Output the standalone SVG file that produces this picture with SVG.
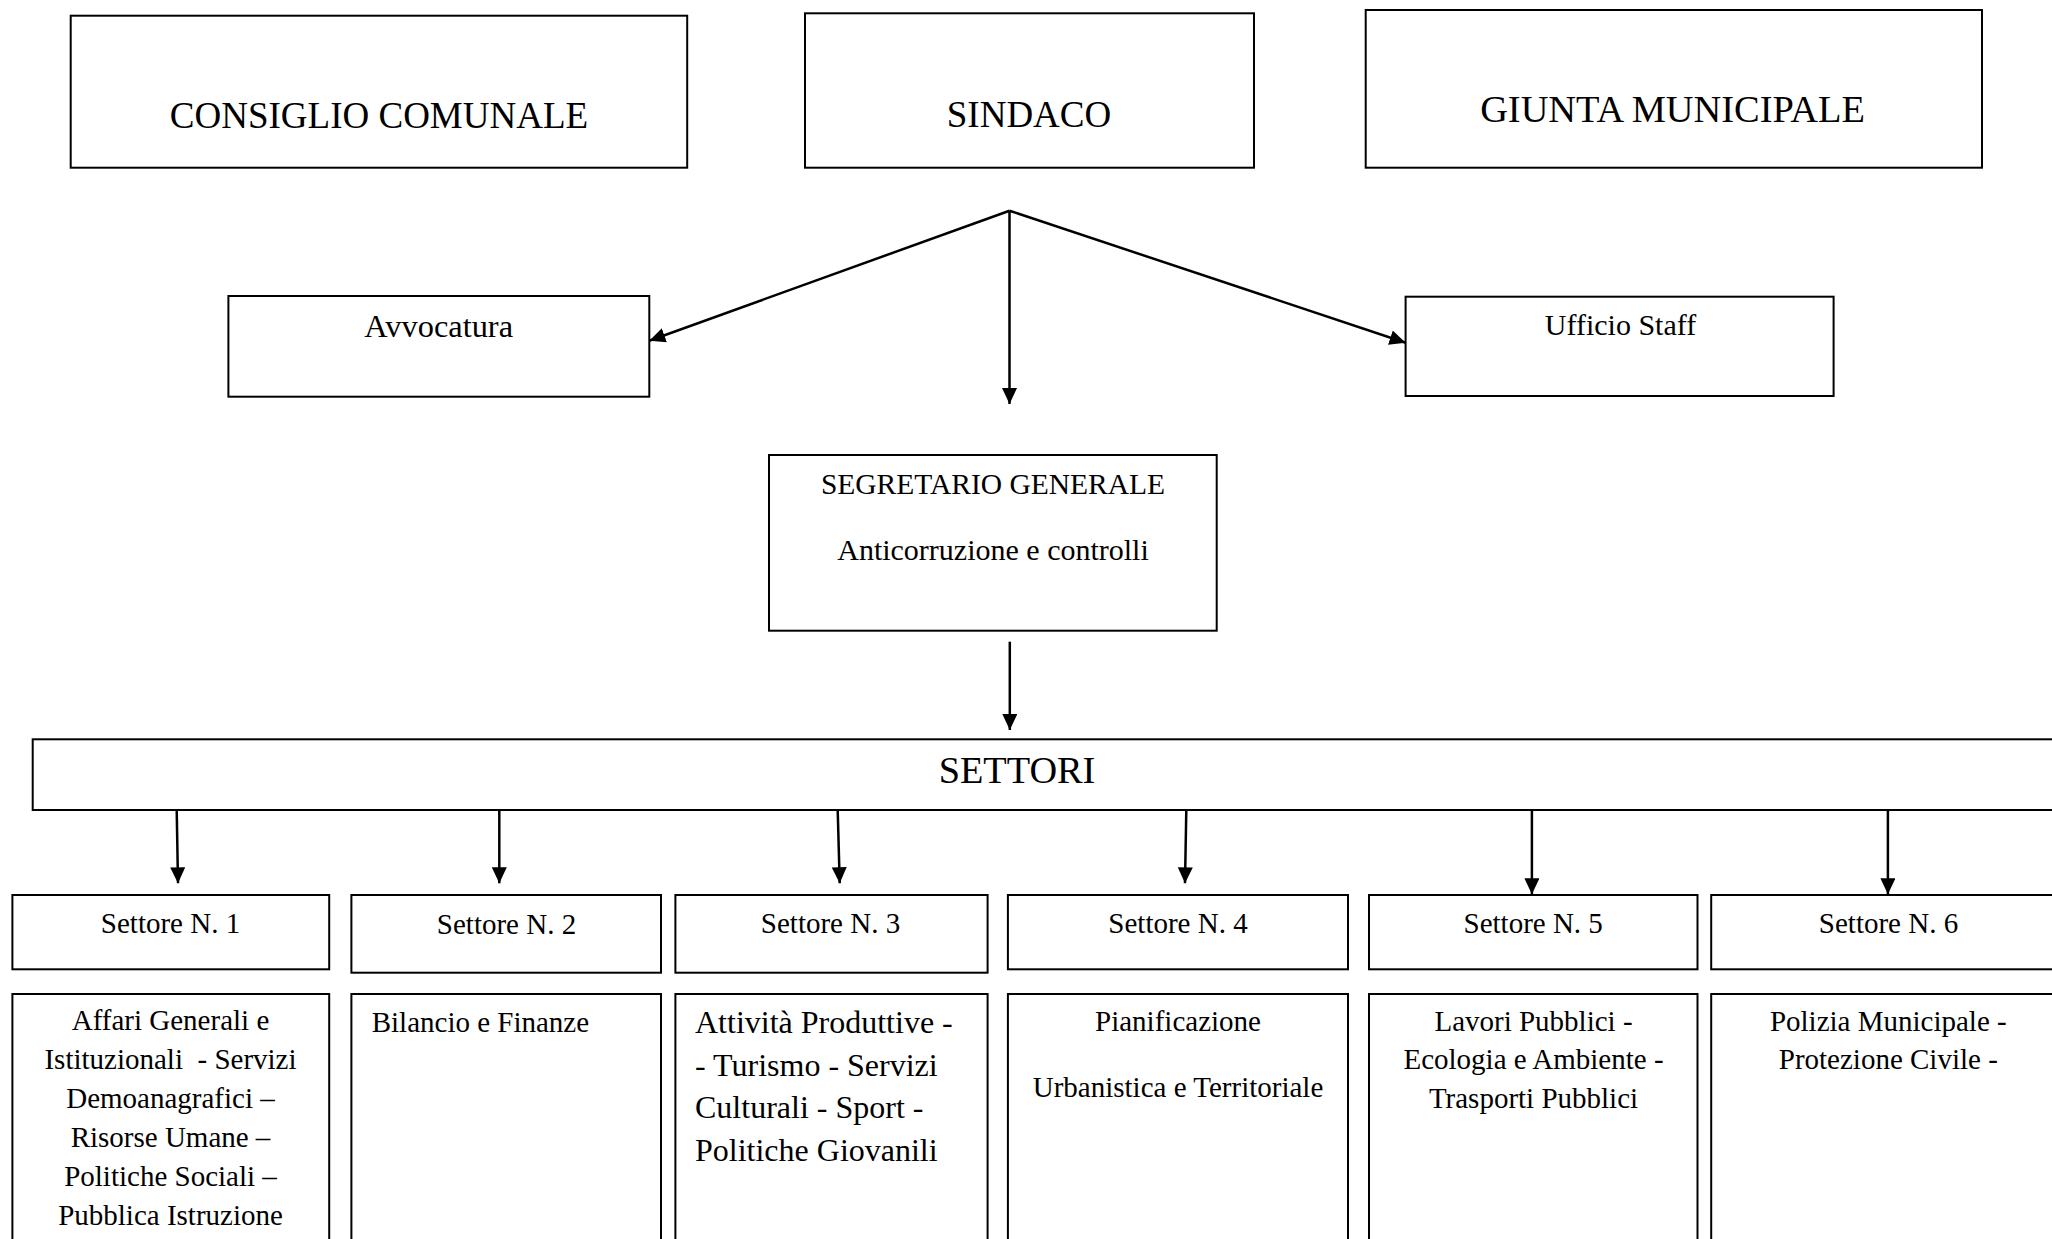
<svg xmlns="http://www.w3.org/2000/svg" width="2052" height="1239" viewBox="0 0 2052 1239">
<style>
  .box { fill: #ffffff; stroke: #000000; stroke-width: 2; }
  .t { font-family: "Liberation Serif", "Times New Roman", serif; fill: #000000; }
  .c { text-anchor: middle; }
  .big { font-size: 37px; }
  .med { font-size: 29px; }
  .conn { fill: none; stroke: #000000; stroke-width: 2.5; marker-end: url(#arrow); }
</style>
<defs>
  <marker id="arrow" markerUnits="userSpaceOnUse" markerWidth="16" markerHeight="16" refX="16" refY="7.5" orient="auto">
    <path d="M0,0 L16,7.5 L0,15 z" fill="#000000"/>
  </marker>
</defs>
<rect width="2052" height="1239" fill="#ffffff"/>

<g id="consiglio">
  <rect class="box" x="70.7" y="15.7" width="616.5" height="152"/>
  <text class="t c big" x="379" y="127.7">CONSIGLIO COMUNALE</text>
</g>
<g id="sindaco">
  <rect class="box" x="805" y="13.3" width="449" height="154.4"/>
  <text class="t c big" x="1029" y="126.7">SINDACO</text>
</g>
<g id="giunta">
  <rect class="box" x="1365.7" y="10" width="616.3" height="157.7"/>
  <text class="t c" style="font-size:38.4px" x="1672.5" y="121.7">GIUNTA MUNICIPALE</text>
</g>
<g id="avvocatura">
  <rect class="box" x="228.4" y="296" width="420.9" height="100.7"/>
  <text class="t c" style="font-size:32.4px" x="438.7" y="336.7">Avvocatura</text>
</g>
<g id="ufficio-staff">
  <rect class="box" x="1405.6" y="296.7" width="428" height="99.3"/>
  <text class="t c" style="font-size:30px" x="1620.5" y="335">Ufficio Staff</text>
</g>
<g id="segretario">
  <rect class="box" x="769" y="455" width="447.7" height="175.7"/>
  <text class="t c" style="font-size:29.5px" x="993" y="493.5">SEGRETARIO GENERALE</text>
  <text class="t c" style="font-size:30px" x="993" y="560">Anticorruzione e controlli</text>
</g>
<g id="settori">
  <rect class="box" x="32.7" y="739.3" width="2030" height="70.7"/>
  <text class="t c" style="font-size:38.3px" x="1017" y="783.3">SETTORI</text>
</g>

<g id="settore1">
  <rect class="box" x="12.4" y="895" width="316.8" height="74.3"/>
  <text class="t c med" x="170.5" y="932.7">Settore N. 1</text>
</g>
<g id="settore2">
  <rect class="box" x="351.4" y="895" width="309.6" height="77.7"/>
  <text class="t c med" x="506.5" y="934">Settore N. 2</text>
</g>
<g id="settore3">
  <rect class="box" x="675.4" y="895" width="312.2" height="77.7"/>
  <text class="t c med" x="830.5" y="932.7">Settore N. 3</text>
</g>
<g id="settore4">
  <rect class="box" x="1007.9" y="895" width="340.1" height="74.3"/>
  <text class="t c med" x="1178" y="932.7">Settore N. 4</text>
</g>
<g id="settore5">
  <rect class="box" x="1369" y="895" width="328.5" height="74.3"/>
  <text class="t c med" x="1533.2" y="932.7">Settore N. 5</text>
</g>
<g id="settore6">
  <rect class="box" x="1711.2" y="895" width="354" height="74.3"/>
  <text class="t c med" x="1888.5" y="932.7">Settore N. 6</text>
</g>

<g id="desc1">
  <rect class="box" x="12.4" y="994" width="316.8" height="260"/>
  <text class="t c med" x="170.5" y="1030">Affari Generali e</text>
  <text class="t c med" x="170.5" y="1069.3" style="white-space:pre">Istituzionali  - Servizi</text>
  <text class="t c med" x="170.5" y="1108.3">Demoanagrafici –</text>
  <text class="t c med" x="170.5" y="1147.3">Risorse Umane –</text>
  <text class="t c med" x="170.5" y="1186">Politiche Sociali –</text>
  <text class="t c med" x="170.5" y="1225">Pubblica Istruzione</text>
</g>
<g id="desc2">
  <rect class="box" x="351.4" y="994" width="309.6" height="260"/>
  <text class="t med" x="371.7" y="1031.7">Bilancio e Finanze</text>
</g>
<g id="desc3">
  <rect class="box" x="675.4" y="994" width="312.2" height="260"/>
  <text class="t" style="font-size:32px" x="695" y="1033">Attività Produttive -</text>
  <text class="t" style="font-size:32px" x="695" y="1075.5">- Turismo - Servizi</text>
  <text class="t" style="font-size:32px" x="695" y="1118">Culturali - Sport -</text>
  <text class="t" style="font-size:32px" x="695" y="1160.5">Politiche Giovanili</text>
</g>
<g id="desc4">
  <rect class="box" x="1007.9" y="994" width="340.1" height="260"/>
  <text class="t c med" x="1178" y="1030.7">Pianificazione</text>
  <text class="t c med" x="1178" y="1096.7">Urbanistica e Territoriale</text>
</g>
<g id="desc5">
  <rect class="box" x="1369" y="994" width="328.5" height="260"/>
  <text class="t c med" x="1533.5" y="1030.7">Lavori Pubblici -</text>
  <text class="t c med" x="1533.5" y="1069.3">Ecologia e Ambiente -</text>
  <text class="t c med" x="1533.5" y="1108.3">Trasporti Pubblici</text>
</g>
<g id="desc6">
  <rect class="box" x="1711.2" y="994" width="354" height="260"/>
  <text class="t c med" x="1888.3" y="1030.7">Polizia Municipale -</text>
  <text class="t c med" x="1888.3" y="1069.3">Protezione Civile -</text>
</g>

<g id="connectors">
  <path class="conn" d="M1009.5,210.7 L649.3,340.7"/>
  <path class="conn" d="M1009.5,210.7 L1009.5,404"/>
  <path class="conn" d="M1009.5,210.7 L1405.6,342.7"/>
  <path class="conn" d="M1009.8,641.7 L1009.8,730"/>
  <path class="conn" d="M176.7,810 L178,883.3"/>
  <path class="conn" d="M499.3,810 L499.3,883.3"/>
  <path class="conn" d="M837.7,810 L839.7,883.3"/>
  <path class="conn" d="M1186.3,810 L1185,883.3"/>
  <path class="conn" d="M1531.9,810 L1531.9,894.3"/>
  <path class="conn" d="M1887.9,810 L1887.9,894.3"/>
</g>
</svg>
